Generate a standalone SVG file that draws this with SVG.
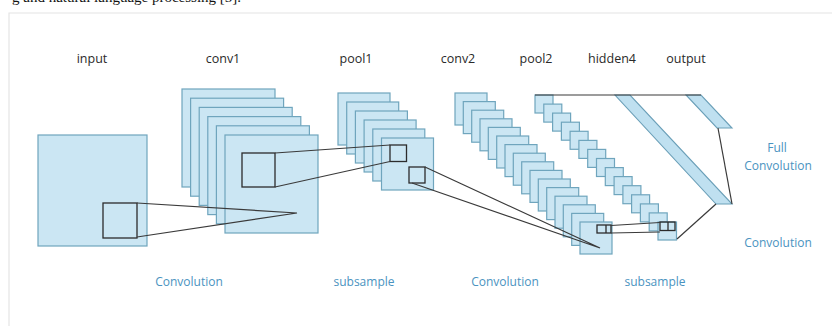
<svg xmlns="http://www.w3.org/2000/svg" width="832" height="326" viewBox="0 0 832 326">
  <style>
    .sq { fill: #cbe6f3; stroke: #6fa5bd; stroke-width: 1.2; }
    .bar { fill: #bfe0f0; stroke: #6a9fb8; stroke-width: 1.1; }
    .ln { fill: none; stroke: #3a3a3a; stroke-width: 1.2; }
    .bx { fill: none; stroke: #2c2c2c; stroke-width: 1.3; }
    .lbl { font-family: "Open Sans", "Liberation Sans", sans-serif; font-size: 12.5px; fill: #2a2a2a; text-anchor: middle; }
    .op { font-family: "Open Sans", "Liberation Sans", sans-serif; font-size: 12px; fill: #4a93c0; text-anchor: middle; }
    .body { font-family: "Liberation Serif", serif; font-size: 15px; fill: #111; }
  </style>

  <rect width="832" height="326" fill="#ffffff"/>
  <!-- running text line above the figure -->
  <text class="body" x="12" y="1.5">g and natural language processing [5].</text>
  <!-- figure frame -->
  <path d="M9 326 V13 H832" fill="none" stroke="#e4e4e4" stroke-width="1.2"/>

  <!-- input image -->
  <g id="input">
    <rect class="sq" x="38" y="135" width="109" height="111" fill="#cfe6f0"/>
    <rect class="bx" x="103" y="203" width="34" height="35"/>
  </g>

  <!-- conv1 feature maps -->
  <g id="conv1">
    <rect class="sq" x="182" y="89" width="93" height="98"/>
    <rect class="sq" x="190.6" y="98.2" width="93" height="98"/>
    <rect class="sq" x="199.2" y="107.4" width="93" height="98"/>
    <rect class="sq" x="207.8" y="116.6" width="93" height="98"/>
    <rect class="sq" x="216.4" y="125.8" width="93" height="98"/>
    <rect class="sq" x="225" y="135" width="93" height="98"/>
    <rect class="bx" x="242" y="153" width="33" height="34"/>
  </g>

  <!-- pool1 feature maps -->
  <g id="pool1">
    <rect class="sq" x="338" y="93" width="52" height="52"/>
    <rect class="sq" x="346.7" y="102" width="52" height="52"/>
    <rect class="sq" x="355.4" y="111" width="52" height="52"/>
    <rect class="sq" x="364.1" y="120" width="52" height="52"/>
    <rect class="sq" x="372.8" y="129" width="52" height="52"/>
    <rect class="sq" x="381.5" y="138" width="52" height="52"/>
    <rect class="bx" x="390" y="145" width="16.5" height="16.5"/>
    <rect class="bx" x="409" y="167" width="16" height="16"/>
  </g>

  <!-- conv2 feature maps -->
  <g id="conv2">
    <rect class="sq" x="455" y="93" width="32" height="32"/>
    <rect class="sq" x="463.3" y="101.6" width="32" height="32"/>
    <rect class="sq" x="471.7" y="110.2" width="32" height="32"/>
    <rect class="sq" x="480" y="118.8" width="32" height="32"/>
    <rect class="sq" x="488.3" y="127.4" width="32" height="32"/>
    <rect class="sq" x="496.7" y="136" width="32" height="32"/>
    <rect class="sq" x="505" y="144.6" width="32" height="32"/>
    <rect class="sq" x="513.3" y="153.2" width="32" height="32"/>
    <rect class="sq" x="521.7" y="161.8" width="32" height="32"/>
    <rect class="sq" x="530" y="170.4" width="32" height="32"/>
    <rect class="sq" x="538.3" y="179" width="32" height="32"/>
    <rect class="sq" x="546.7" y="187.6" width="32" height="32"/>
    <rect class="sq" x="555" y="196.2" width="32" height="32"/>
    <rect class="sq" x="563.3" y="204.8" width="32" height="32"/>
    <rect class="sq" x="571.7" y="213.4" width="32" height="32"/>
    <rect class="sq" x="580" y="222" width="32" height="32"/>
    <rect class="bx" x="597" y="225" width="14" height="8"/>
    <path class="bx" d="M606 225 V233"/>
  </g>

  <!-- pool2 feature maps -->
  <g id="pool2">
    <rect class="sq" x="535" y="95" width="18" height="18"/>
    <rect class="sq" x="543.8" y="104.1" width="18" height="18"/>
    <rect class="sq" x="552.6" y="113.1" width="18" height="18"/>
    <rect class="sq" x="561.4" y="122.2" width="18" height="18"/>
    <rect class="sq" x="570.1" y="131.3" width="18" height="18"/>
    <rect class="sq" x="578.9" y="140.4" width="18" height="18"/>
    <rect class="sq" x="587.7" y="149.4" width="18" height="18"/>
    <rect class="sq" x="596.5" y="158.5" width="18" height="18"/>
    <rect class="sq" x="605.3" y="167.6" width="18" height="18"/>
    <rect class="sq" x="614.1" y="176.6" width="18" height="18"/>
    <rect class="sq" x="622.9" y="185.7" width="18" height="18"/>
    <rect class="sq" x="631.6" y="194.8" width="18" height="18"/>
    <rect class="sq" x="640.4" y="203.9" width="18" height="18"/>
    <rect class="sq" x="649.2" y="212.9" width="18" height="18"/>
    <rect class="sq" x="658" y="222" width="18.5" height="18"/>
    <rect class="bx" x="660" y="222" width="15" height="8.5"/>
    <path class="bx" d="M668 222 V230.5"/>
  </g>

  <!-- hidden4 fully connected layer -->
  <g id="hidden4">
    <polygon class="bar" points="615,95 630,95 732,204 716,204"/>
  </g>

  <!-- output layer -->
  <g id="output">
    <polygon class="bar" points="686,95 701,95 732,128 717,128"/>
  </g>

  <!-- receptive-field and connection lines -->
  <g id="connectors">
    <path class="ln" d="M137 203 L297 213 L137 237"/>
    <path class="ln" d="M275 153 L390 145"/>
    <path class="ln" d="M275 187 L390 161.5"/>
    <path class="ln" d="M425 167 L600 248 L412 183"/>
    <path class="ln" d="M611 225.5 L660 222.5"/>
    <path class="ln" d="M611 233 L660 232"/>
    <path class="ln" d="M677 239 L716 204"/>
    <path class="ln" d="M718 128 L732 204"/>
    <path class="ln" d="M535 95 H701"/>
  </g>

  <!-- layer titles -->
  <g id="titles">
    <text class="lbl" x="92" y="63">input</text>
    <text class="lbl" x="223" y="63">conv1</text>
    <text class="lbl" x="356" y="63">pool1</text>
    <text class="lbl" x="458" y="63">conv2</text>
    <text class="lbl" x="536" y="63">pool2</text>
    <text class="lbl" x="612" y="63">hidden4</text>
    <text class="lbl" x="686" y="63">output</text>
  </g>

  <!-- operation captions -->
  <g id="captions">
    <text class="op" x="189" y="286">Convolution</text>
    <text class="op" x="364" y="286">subsample</text>
    <text class="op" x="505" y="286">Convolution</text>
    <text class="op" x="655" y="286">subsample</text>
    <text class="op" x="778" y="247">Convolution</text>
    <text class="op" x="777" y="152">Full</text>
    <text class="op" x="778" y="169.5">Convolution</text>
  </g>
</svg>
